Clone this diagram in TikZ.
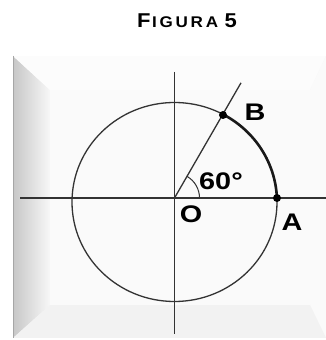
\documentclass[tikz,border=0pt]{standalone}
\usepackage{fontspec}
\setmainfont{Liberation Sans}
\usetikzlibrary{positioning,calc}

\newcommand{\wide}[1]{\scalebox{1.2}[1]{#1}}

\begin{document}
\begin{tikzpicture}[x=1pt,y=1pt,
  lbl/.style={font=\fontsize{24}{26}\selectfont\bfseries,inner sep=0pt},
  heading/.style={font=\fontsize{20}{22}\selectfont\bfseries,inner sep=0pt},
  dot/.style={circle,fill=black,inner sep=0pt,minimum size=8pt},
  thinline/.style={line width=1.3pt,black!80},
]
\useasboundingbox (0,0) rectangle (326,340);

% Bevelled frame
\fill[black!3] (13,2) rectangle (326,284);
\shade[left color=black!22,right color=black!3] (13,284) -- (50,250) -- (50,35) -- (13,2) -- cycle;
\fill[black!1] (13,284) -- (326,284) -- (310,250) -- (50,250) -- cycle;
\fill[black!2] (326,284) -- (326,2) -- (310,35) -- (310,250) -- cycle;
\fill[black!5] (13,2) -- (326,2) -- (310,35) -- (50,35) -- cycle;
\fill[black!2] (50,35) rectangle (310,250);
\draw[black!35,line width=1pt] (13.5,284) -- (13.5,2);

% Title
\node[heading] (title) at (187,319)
  {\scalebox{1.1}[1]{F\kern1.5pt\fontsize{15.5}{17}\selectfont I\kern2.5pt G\kern2.5pt U\kern2.5pt R\kern2.5pt A\kern6pt\fontsize{20}{22}\selectfont 5}};

% Points
\coordinate (O) at (174.5,142);
\coordinate (C) at (174.5,138);
\coordinate (xl) at (20,142);
\coordinate (xr) at (326,142);
\coordinate (yt) at (174.5,268);
\coordinate (yb) at (174.5,6);
\coordinate (ray) at ($(O)+(60:133)$);

% Circle and axes
\draw[thinline] (C) ellipse [x radius=102.5,y radius=99.5];
\draw[thinline] (xl) -- (xr);
\draw[thinline] (yt) -- (yb);
\draw[thinline] (O) -- (ray);
\draw[line width=1pt,black!80] ($(O)+(25,0)$) arc[start angle=0,end angle=60,radius=25];

% Arc AB
\draw[line width=2.6pt,black!90] ($(C)+(102.5*cos 2.3,99.5*sin 2.3)$)
  arc[start angle=2.3,end angle=61.5,x radius=102.5,y radius=99.5];
\node[dot] (A) at (277,142) {};
\node[dot] (B) at (223,225) {};

% Labels
\node[lbl] (labB) at (255,228) {\wide{B}};
\node[lbl] (labA) at (292,118) {\wide{A}};
\node[lbl] (labO) at (191,126) {\wide{O}};
\node[lbl] (ang) at (221,159) {\wide{60°}};

\end{tikzpicture}
\end{document}
